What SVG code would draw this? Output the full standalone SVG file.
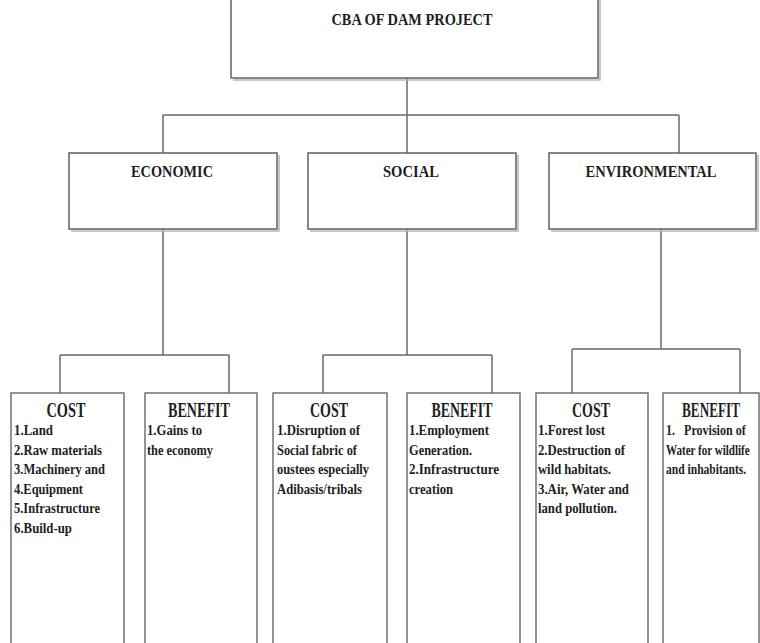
<svg xmlns="http://www.w3.org/2000/svg" width="760" height="643" viewBox="0 0 760 643">
<style>
  .box{fill:#fff;stroke:#6a6a6a;stroke-width:1.6}
  .shadow{fill:none;stroke:#b5b5b5;stroke-width:1.5}
  .col{fill:#fff;stroke:#707070;stroke-width:1.5}
  .con{fill:none;stroke:#6a6a6a;stroke-width:1.5}
  text{font-family:"Liberation Serif","Times New Roman",serif;font-weight:bold;fill:#1e1e1e}
  .h1{font-size:17px}
  .h2{font-size:17px}
  .h3{font-size:20px}
  .li{font-size:14px}
</style>
<rect x="0" y="0" width="760" height="643" fill="#ffffff"/>

<g id="connectors">
  <path class="con" d="M407,78 V115 M163,115 H679 M163,115 V153 M407,115 V153 M679,115 V153"/>
  <path class="con" d="M163,229 V355 M60,355 H229 M60,355 V393 M229,355 V393"/>
  <path class="con" d="M407,229 V355 M323,355 H492 M323,355 V393 M492,355 V393"/>
  <path class="con" d="M661,229 V349 M572,349 H740 M572,349 V393 M740,349 V393"/>
</g>

<g id="root">
  <path class="shadow" d="M233,80 H600 V-10"/>
  <rect class="box" x="231" y="-10" width="367" height="88"/>
  <text class="h1" x="412" y="25" text-anchor="middle" textLength="161" lengthAdjust="spacingAndGlyphs">CBA OF DAM PROJECT</text>
</g>

<g id="economic">
  <path class="shadow" d="M71,231 H279 V155"/>
  <rect class="box" x="69" y="153" width="208" height="76"/>
  <text class="h2" x="172" y="177" text-anchor="middle" textLength="82" lengthAdjust="spacingAndGlyphs">ECONOMIC</text>
</g>
<g id="social">
  <path class="shadow" d="M310,231 H518 V155"/>
  <rect class="box" x="308" y="153" width="208" height="76"/>
  <text class="h2" x="411" y="177" text-anchor="middle" textLength="56" lengthAdjust="spacingAndGlyphs">SOCIAL</text>
</g>
<g id="environmental">
  <path class="shadow" d="M551,231 H758 V155"/>
  <rect class="box" x="549" y="153" width="207" height="76"/>
  <text class="h2" x="651" y="177" text-anchor="middle" textLength="131" lengthAdjust="spacingAndGlyphs">ENVIRONMENTAL</text>
</g>

<g id="econ-cost">
  <rect class="col" x="11" y="393" width="113" height="260"/>
  <text class="h3" x="66" y="417" text-anchor="middle" textLength="39" lengthAdjust="spacingAndGlyphs">COST</text>
  <text class="li" x="14" y="435" textLength="39" lengthAdjust="spacingAndGlyphs">1.Land</text>
  <text class="li" x="14" y="454.5" textLength="88" lengthAdjust="spacingAndGlyphs">2.Raw materials</text>
  <text class="li" x="14" y="474" textLength="91" lengthAdjust="spacingAndGlyphs">3.Machinery and</text>
  <text class="li" x="14" y="493.5" textLength="69" lengthAdjust="spacingAndGlyphs">4.Equipment</text>
  <text class="li" x="14" y="513" textLength="86" lengthAdjust="spacingAndGlyphs">5.Infrastructure</text>
  <text class="li" x="14" y="532.5" textLength="58" lengthAdjust="spacingAndGlyphs">6.Build-up</text>
</g>
<g id="econ-benefit">
  <rect class="col" x="145" y="393" width="112" height="260"/>
  <text class="h3" x="199" y="417" text-anchor="middle" textLength="62" lengthAdjust="spacingAndGlyphs">BENEFIT</text>
  <text class="li" x="147" y="435" textLength="55" lengthAdjust="spacingAndGlyphs">1.Gains to</text>
  <text class="li" x="147" y="454.5" textLength="66" lengthAdjust="spacingAndGlyphs">the economy</text>
</g>

<g id="social-cost">
  <rect class="col" x="273" y="393" width="114" height="260"/>
  <text class="h3" x="329" y="417" text-anchor="middle" textLength="38" lengthAdjust="spacingAndGlyphs">COST</text>
  <text class="li" x="277" y="435" textLength="83" lengthAdjust="spacingAndGlyphs">1.Disruption of</text>
  <text class="li" x="277" y="454.5" textLength="80" lengthAdjust="spacingAndGlyphs">Social fabric of</text>
  <text class="li" x="277" y="474" textLength="92" lengthAdjust="spacingAndGlyphs">oustees especially</text>
  <text class="li" x="277" y="493.5" textLength="85" lengthAdjust="spacingAndGlyphs">Adibasis/tribals</text>
</g>
<g id="social-benefit">
  <rect class="col" x="407" y="393" width="113" height="260"/>
  <text class="h3" x="462" y="417" text-anchor="middle" textLength="61" lengthAdjust="spacingAndGlyphs">BENEFIT</text>
  <text class="li" x="409" y="435" textLength="80" lengthAdjust="spacingAndGlyphs">1.Employment</text>
  <text class="li" x="409" y="454.5" textLength="63" lengthAdjust="spacingAndGlyphs">Generation.</text>
  <text class="li" x="409" y="474" textLength="90" lengthAdjust="spacingAndGlyphs">2.Infrastructure</text>
  <text class="li" x="409" y="493.5" textLength="44" lengthAdjust="spacingAndGlyphs">creation</text>
</g>

<g id="env-cost">
  <rect class="col" x="536" y="393" width="112" height="260"/>
  <text class="h3" x="591" y="417" text-anchor="middle" textLength="38" lengthAdjust="spacingAndGlyphs">COST</text>
  <text class="li" x="538" y="435" textLength="67" lengthAdjust="spacingAndGlyphs">1.Forest lost</text>
  <text class="li" x="538" y="454.5" textLength="87" lengthAdjust="spacingAndGlyphs">2.Destruction of</text>
  <text class="li" x="538" y="474" textLength="73" lengthAdjust="spacingAndGlyphs">wild habitats.</text>
  <text class="li" x="538" y="493.5" textLength="91" lengthAdjust="spacingAndGlyphs">3.Air, Water and</text>
  <text class="li" x="538" y="513" textLength="79" lengthAdjust="spacingAndGlyphs">land pollution.</text>
</g>
<g id="env-benefit">
  <rect class="col" x="663" y="393" width="96" height="260"/>
  <text class="h3" transform="translate(711,417) scale(0.66,1)" x="0" y="0" text-anchor="middle">BENEFIT</text>
  <text class="li" transform="translate(666,435) scale(0.86,1)" x="0" y="0" xml:space="preserve">1.   Provision of</text>
  <text class="li" transform="translate(666,454.5) scale(0.79,1)" x="0" y="0">Water for wildlife</text>
  <text class="li" transform="translate(666,474) scale(0.825,1)" x="0" y="0">and inhabitants.</text>
</g>
</svg>
